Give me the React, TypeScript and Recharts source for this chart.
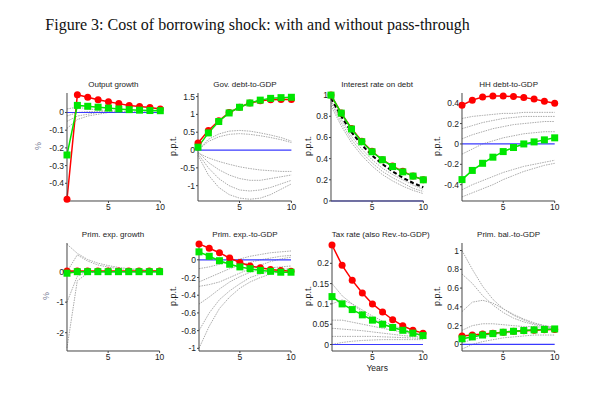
import React from "react";
import { LineChart, Line, XAxis, YAxis, ReferenceLine } from "recharts";

const YEARS = [1, 2, 3, 4, 5, 6, 7, 8, 9, 10];

// Output growth
const outRed = [-0.49, 0.1, 0.086, 0.072, 0.06, 0.05, 0.04, 0.034, 0.028, 0.02];
const outGreen = [-0.24, 0.04, 0.035, 0.03, 0.025, 0.02, 0.016, 0.013, 0.011, 0.01];
const outGray = [
  [-0.09, -0.04, -0.02, -0.01, 0, 0, 0, 0, 0, 0],
  [-0.05, -0.02, -0.01, 0, 0, 0, 0, 0, 0, 0],
  [-0.02, 0, 0.005, 0.005, 0.005, 0.005, 0, 0, 0, 0],
  [0.02, 0.03, 0.02, 0.015, 0.01, 0.008, 0.005, 0.004, 0.003, 0.002],
];

// Gov. debt-to-GDP
const debtRed = [0.2, 0.55, 0.82, 1.05, 1.2, 1.32, 1.38, 1.41, 1.42, 1.42];
const debtGreen = [0.08, 0.48, 0.8, 1.04, 1.2, 1.32, 1.4, 1.45, 1.47, 1.48];
const debtGray = [
  [0, 0.3, 0.45, 0.53, 0.55, 0.53, 0.48, 0.42, 0.35, 0.25],
  [0, 0.24, 0.37, 0.44, 0.46, 0.44, 0.4, 0.35, 0.29, 0.21],
  [-0.08, -0.22, -0.32, -0.4, -0.47, -0.52, -0.56, -0.58, -0.6, -0.6],
  [-0.05, -0.35, -0.55, -0.7, -0.8, -0.85, -0.85, -0.8, -0.75, -0.7],
  [-0.1, -0.5, -0.8, -1.0, -1.12, -1.15, -1.12, -1.05, -0.95, -0.85],
  [-0.15, -0.7, -1.05, -1.25, -1.35, -1.38, -1.35, -1.25, -1.1, -0.95],
];

// Interest rate on debt
const rateRed = [1.0, 0.83, 0.685, 0.565, 0.47, 0.39, 0.33, 0.28, 0.235, 0.2];
const rateGreen = [1.0, 0.83, 0.68, 0.56, 0.465, 0.39, 0.325, 0.275, 0.235, 0.2];
const rateDash = [0.97, 0.8, 0.65, 0.53, 0.43, 0.35, 0.28, 0.22, 0.17, 0.13];
const rateGray = [
  [0.95, 0.77, 0.61, 0.49, 0.39, 0.31, 0.25, 0.2, 0.15, 0.11],
  [0.93, 0.74, 0.58, 0.46, 0.36, 0.28, 0.22, 0.17, 0.12, 0.09],
  [0.9, 0.71, 0.55, 0.43, 0.33, 0.25, 0.19, 0.14, 0.1, 0.07],
];

// HH debt-to-GDP
const hhRed = [0.38, 0.43, 0.46, 0.47, 0.47, 0.465, 0.455, 0.44, 0.42, 0.4];
const hhGreen = [-0.35, -0.26, -0.19, -0.13, -0.075, -0.035, 0.0, 0.02, 0.04, 0.06];
const hhGray = [
  [0.25, 0.27, 0.28, 0.29, 0.3, 0.3, 0.31, 0.31, 0.31, 0.31],
  [0.15, 0.18, 0.21, 0.23, 0.25, 0.26, 0.27, 0.27, 0.27, 0.27],
  [0.05, 0.09, 0.12, 0.15, 0.17, 0.19, 0.2, 0.21, 0.22, 0.22],
  [-0.1, -0.05, 0.0, 0.03, 0.06, 0.08, 0.1, 0.11, 0.12, 0.12],
  [-0.45, -0.4, -0.36, -0.32, -0.28, -0.25, -0.22, -0.2, -0.18, -0.16],
  [-0.52, -0.48, -0.44, -0.4, -0.35, -0.31, -0.27, -0.24, -0.21, -0.19],
];

// Prim. exp. growth
const pegRed = [0.02, 0.02, 0.02, 0.02, 0.02, 0.02, 0.02, 0.02, 0.02, 0.02];
const pegGreen = [-0.05, 0.0, 0.0, 0.0, 0.0, 0.0, 0.0, 0.0, 0.0, 0.0];
const pegGray = [
  [0.9, 0.6, 0.4, 0.28, 0.2, 0.14, 0.1, 0.07, 0.05, 0.03],
  [0.0, 0.55, 0.35, 0.22, 0.15, 0.1, 0.07, 0.05, 0.03, 0.02],
  [-2.5, -0.3, -0.05, 0, 0, 0, 0, 0, 0, 0],
  [-1.0, -0.15, 0, 0, 0, 0, 0, 0, 0, 0],
];

// Prim. exp.-to-GDP
const pexRed = [0.18, 0.13, 0.08, 0.02, -0.03, -0.07, -0.09, -0.11, -0.12, -0.13];
const pexGreen = [0.09, 0.04, -0.01, -0.05, -0.08, -0.1, -0.12, -0.13, -0.14, -0.14];
const pexGray = [
  [-1.0, -0.75, -0.55, -0.42, -0.32, -0.25, -0.2, -0.16, -0.13, -0.11],
  [-0.8, -0.6, -0.45, -0.35, -0.27, -0.2, -0.16, -0.13, -0.11, -0.1],
  [-0.5, -0.42, -0.33, -0.25, -0.19, -0.14, -0.11, -0.09, -0.08, -0.07],
  [-0.3, -0.28, -0.25, -0.2, -0.15, -0.1, -0.06, -0.02, 0.01, 0.03],
  [-0.25, -0.2, -0.15, -0.1, -0.06, -0.03, 0.0, 0.02, 0.04, 0.05],
  [-0.1, -0.08, -0.05, -0.02, 0.01, 0.04, 0.06, 0.08, 0.09, 0.1],
];

// Tax rate (also Rev.-to-GDP)
const taxRed = [0.245, 0.195, 0.158, 0.127, 0.1, 0.08, 0.061, 0.046, 0.035, 0.028];
const taxGreen = [0.118, 0.1, 0.086, 0.073, 0.06, 0.05, 0.042, 0.035, 0.028, 0.022];
const taxGray = [
  [0.15, 0.12, 0.1, 0.08, 0.065, 0.052, 0.042, 0.034, 0.028, 0.022],
  [0.1, 0.11, 0.1, 0.085, 0.07, 0.058, 0.047, 0.038, 0.03, 0.024],
  [0.06, 0.06, 0.055, 0.05, 0.045, 0.04, 0.035, 0.03, 0.026, 0.022],
  [0.04, 0.038, 0.036, 0.034, 0.031, 0.028, 0.025, 0.022, 0.02, 0.018],
  [0.02, 0.02, 0.02, 0.02, 0.02, 0.019, 0.018, 0.017, 0.016, 0.015],
  [0.0, 0.005, 0.008, 0.01, 0.011, 0.012, 0.012, 0.012, 0.012, 0.012],
];

// Prim. bal.-to-GDP
const pbRed = [0.09, 0.1, 0.11, 0.12, 0.13, 0.14, 0.145, 0.15, 0.155, 0.16];
const pbGreen = [0.06, 0.08, 0.1, 0.115, 0.13, 0.14, 0.148, 0.155, 0.16, 0.165];
const pbGray = [
  [1.0, 0.8, 0.62, 0.48, 0.38, 0.31, 0.26, 0.22, 0.2, 0.18],
  [0.75, 0.65, 0.52, 0.42, 0.34, 0.28, 0.24, 0.21, 0.19, 0.18],
  [0.35, 0.45, 0.47, 0.44, 0.38, 0.32, 0.27, 0.23, 0.2, 0.18],
  [0.15, 0.2, 0.22, 0.22, 0.21, 0.2, 0.19, 0.19, 0.18, 0.18],
  [0.02, 0.05, 0.08, 0.1, 0.12, 0.13, 0.14, 0.15, 0.16, 0.17],
  [-0.05, 0, 0.03, 0.05, 0.07, 0.08, 0.09, 0.1, 0.1, 0.1],
];

const FONT = "'Liberation Sans', Arial, sans-serif";

const GreenSquare = (props: any) => {
  const { cx, cy, index } = props;
  if (cx == null || cy == null) return <g key={index} />;
  return <rect key={index} x={cx - 3.5} y={cy - 3.5} width={7} height={7} fill="#00e600" />;
};

type PanelProps = {
  x0: number;
  x1: number;
  y0: number;
  y1: number;
  title: string;
  ylabel: string;
  ylabelX: number;
  ylabelColor?: string;
  domain: [number, number];
  ticks: number[];
  red: number[];
  green: number[];
  gray: number[][];
  dashed?: number[];
  xlabel?: string;
};

function Panel(p: PanelProps) {
  const data = YEARS.map((year, i) => {
    const row: Record<string, number> = { year, red: p.red[i], green: p.green[i] };
    p.gray.forEach((g, k) => (row["g" + k] = g[i]));
    if (p.dashed) row.dash = p.dashed[i];
    return row;
  });
  const pw = p.x1 - p.x0;
  const ph = p.y1 - p.y0;
  const axisStyle = { fontSize: 8.5, fill: "#222", fontFamily: FONT };
  return (
    <>
      <div
        style={{
          position: "absolute",
          left: p.x0,
          width: pw,
          top: p.y0 - 13,
          textAlign: "center",
          fontSize: 8,
          fontFamily: FONT,
          color: "#222",
          whiteSpace: "nowrap",
        }}
      >
        {p.title}
      </div>
      <div
        style={{
          position: "absolute",
          left: p.ylabelX - 20,
          width: 40,
          top: (p.y0 + p.y1) / 2 - 6,
          textAlign: "center",
          fontSize: 9,
          fontFamily: FONT,
          color: p.ylabelColor ?? "#222",
          transform: "rotate(-90deg)",
        }}
      >
        {p.ylabel}
      </div>
      {p.xlabel && (
        <div
          style={{
            position: "absolute",
            left: p.x0,
            width: pw,
            top: p.y1 + 12,
            textAlign: "center",
            fontSize: 8.5,
            fontFamily: FONT,
            color: "#222",
          }}
        >
          {p.xlabel}
        </div>
      )}
      <div style={{ position: "absolute", left: p.x0 - 50, top: p.y0 - 10 }}>
        <LineChart
          width={pw + 60}
          height={ph + 30}
          data={data}
          margin={{ top: 10, right: 10, bottom: 0, left: 0 }}
        >
          <XAxis
            dataKey="year"
            type="number"
            domain={[1, 10]}
            ticks={[5, 10]}
            height={20}
            tick={axisStyle}
            tickSize={2}
            tickMargin={1}
            stroke="#444"
          />
          <YAxis
            type="number"
            domain={p.domain}
            ticks={p.ticks}
            width={50}
            tick={axisStyle}
            tickSize={2}
            tickMargin={1}
            stroke="#444"
            interval={0}
          />
          {p.gray.map((_, k) => (
            <Line
              key={"g" + k}
              dataKey={"g" + k}
              stroke="#aaa"
              strokeWidth={1}
              strokeDasharray="1.5 1"
              dot={false}
              isAnimationActive={false}
            />
          ))}
          <ReferenceLine y={0} stroke="#3a3aff" strokeWidth={1.2} />
          {p.dashed && (
            <Line
              dataKey="dash"
              stroke="#000"
              strokeWidth={2}
              strokeDasharray="4 2.5"
              dot={false}
              isAnimationActive={false}
            />
          )}
          <Line
            dataKey="red"
            stroke="#ff0000"
            strokeWidth={1.5}
            dot={{ r: 3.5, fill: "#ff0000", stroke: "#ff0000", strokeWidth: 0 }}
            isAnimationActive={false}
          />
          <Line
            dataKey="green"
            stroke="#00e600"
            strokeWidth={1.5}
            dot={<GreenSquare />}
            isAnimationActive={false}
          />
        </LineChart>
      </div>
    </>
  );
}

export default function App() {
  return (
    <div
      style={{
        position: "absolute",
        left: 0,
        top: 0,
        width: 600,
        height: 393,
        background: "#fff",
        overflow: "hidden",
      }}
    >
      <div
        style={{
          position: "absolute",
          left: 0,
          width: 515,
          top: 16,
          textAlign: "center",
          fontFamily: "'Liberation Serif', 'Times New Roman', serif",
          fontSize: 16,
          color: "#111",
          whiteSpace: "nowrap",
        }}
      >
        Figure 3: Cost of borrowing shock: with and without pass-through
      </div>
      <Panel x0={66.7} x1={160} y0={93} y1={201} title="Output growth" ylabel="%" ylabelX={38} ylabelColor="#7a8098"
        domain={[-0.5, 0.11]} ticks={[-0.4, -0.3, -0.2, -0.1, 0]} red={outRed} green={outGreen} gray={outGray} />
      <Panel x0={198.3} x1={291.7} y0={93} y1={201} title="Gov. debt-to-GDP" ylabel="p.p.t." ylabelX={173}
        domain={[-1.43, 1.6]} ticks={[-1, -0.5, 0, 0.5, 1, 1.5]} red={debtRed} green={debtGreen} gray={debtGray} />
      <Panel x0={331} x1={423.3} y0={93} y1={201} title="Interest rate on debt" ylabel="p.p.t." ylabelX={308}
        domain={[0, 1.02]} ticks={[0, 0.2, 0.4, 0.6, 0.8, 1]} red={rateRed} green={rateGreen} gray={rateGray} dashed={rateDash} />
      <Panel x0={462.3} x1={555} y0={93} y1={201} title="HH debt-to-GDP" ylabel="p.p.t." ylabelX={437}
        domain={[-0.56, 0.5]} ticks={[-0.4, -0.2, 0, 0.2, 0.4]} red={hhRed} green={hhGreen} gray={hhGray} />
      <Panel x0={66.7} x1={159.3} y0={243} y1={351} title="Prim. exp. growth" ylabel="%" ylabelX={46} ylabelColor="#7a8098"
        domain={[-2.6, 0.94]} ticks={[-2, -1, 0]} red={pegRed} green={pegGreen} gray={pegGray} />
      <Panel x0={199} x1={291} y0={243} y1={351} title="Prim. exp.-to-GDP" ylabel="p.p.t." ylabelX={173}
        domain={[-1.03, 0.19]} ticks={[-1, -0.8, -0.6, -0.4, -0.2, 0]} red={pexRed} green={pexGreen} gray={pexGray} />
      <Panel x0={331.7} x1={422.7} y0={243} y1={351} title="Tax rate (also Rev.-to-GDP)" ylabel="p.p.t." ylabelX={308}
        domain={[-0.016, 0.25]} ticks={[0, 0.05, 0.1, 0.15, 0.2]} red={taxRed} green={taxGreen} gray={taxGray} xlabel="Years" />
      <Panel x0={462.3} x1={555} y0={243} y1={351} title="Prim. bal.-to-GDP" ylabel="p.p.t." ylabelX={437}
        domain={[-0.07, 1.08]} ticks={[0, 0.2, 0.4, 0.6, 0.8, 1]} red={pbRed} green={pbGreen} gray={pbGray} />
    </div>
  );
}
